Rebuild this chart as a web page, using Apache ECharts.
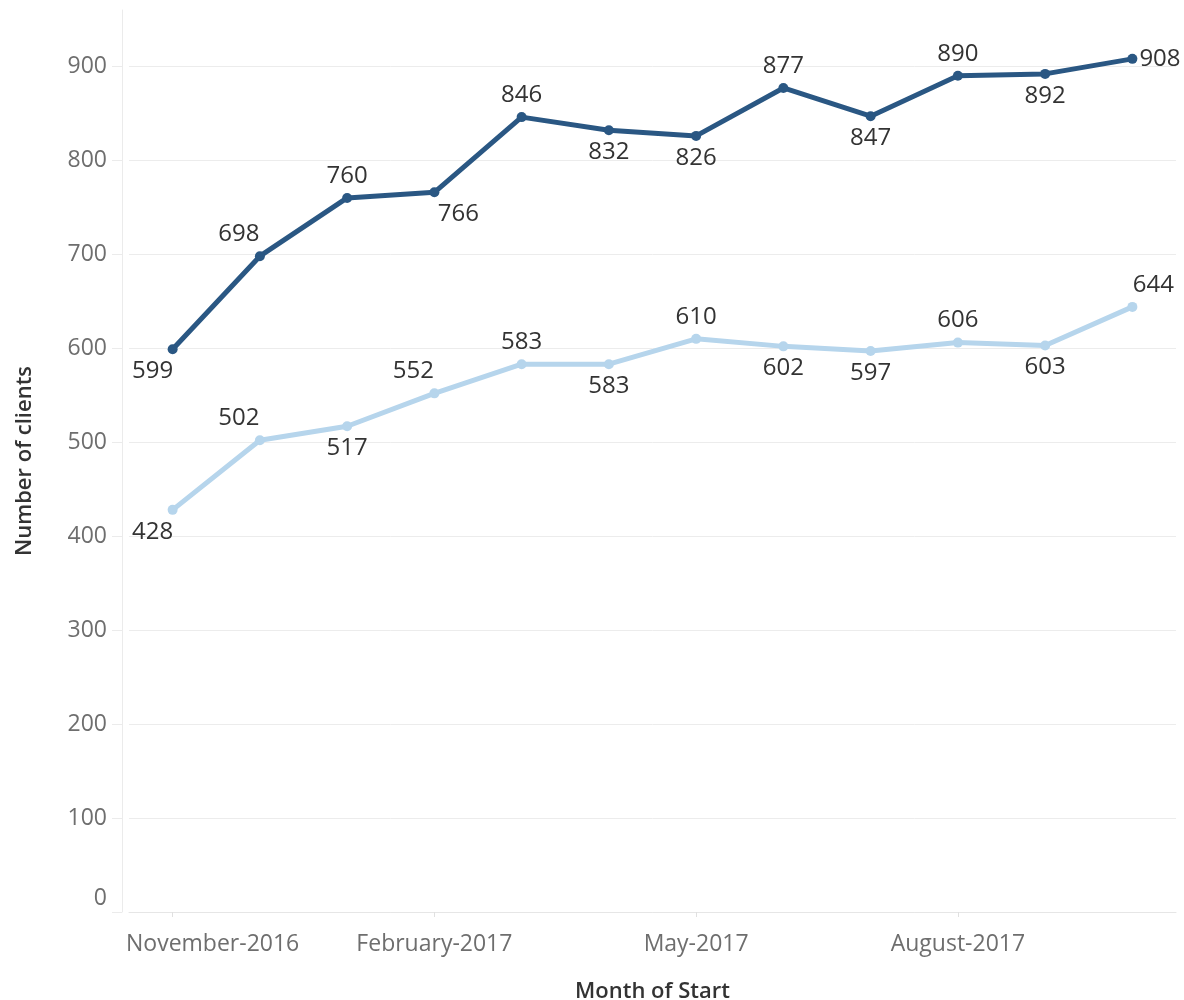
<!DOCTYPE html>
<html>
<head>
<meta charset="utf-8">
<script src="https://cdn.jsdelivr.net/npm/echarts@6/dist/echarts.min.js"></script>
<style>
  html, body { margin: 0; padding: 0; background: #ffffff; }
  #chart { width: 1184px; height: 1000px; }
</style>
</head>
<body>
<div id="chart"></div>
<script>
// Monthly client counts, Nov 2016 – Oct 2017
const months = [
  'November-2016', 'December-2016', 'January-2017', 'February-2017',
  'March-2017', 'April-2017', 'May-2017', 'June-2017',
  'July-2017', 'August-2017', 'September-2017', 'October-2017'
];
const upperClients = [599, 698, 760, 766, 846, 832, 826, 877, 847, 890, 892, 908];
const lowerClients = [428, 502, 517, 552, 583, 583, 610, 602, 597, 606, 603, 644];
const yTicks = [0, 100, 200, 300, 400, 500, 600, 700, 800, 900];

// Where each value label sits relative to its point
const upperLabelSide = ['bl', 'tl', 't', 'br', 't', 'b', 'b', 't', 'b', 't', 'b', 'r'];
const lowerLabelSide = ['bl', 'tl', 'b', 'tl', 't', 'b', 't', 'b', 'b', 't', 'b', 'tr'];

const FONT = '"Open Sans", "Noto Sans", sans-serif';

function labelFor(side) {
  const base = { show: true, color: '#333333', fontSize: 24, fontFamily: FONT, distance: 5 };
  switch (side) {
    case 't':  return Object.assign(base, { position: 'top' });
    case 'b':  return Object.assign(base, { position: 'bottom' });
    case 'tl': return Object.assign(base, { position: 'top', offset: [-21, 0] });
    case 'tr': return Object.assign(base, { position: 'top', offset: [21, 0] });
    case 'bl': return Object.assign(base, { position: 'bottom', offset: [-20, 0] });
    case 'br': return Object.assign(base, { position: 'bottom', offset: [24, 0] });
    case 'r':  return Object.assign(base, { position: 'right', distance: 2 });
  }
  return base;
}

function withLabels(values, sides) {
  return values.map((v, i) => ({ value: v, label: labelFor(sides[i]) }));
}

const chart = echarts.init(document.getElementById('chart'), null, { renderer: 'canvas' });

chart.setOption({
  animation: false,
  backgroundColor: '#ffffff',
  grid: { left: 129, right: 8, top: 10, bottom: 88, containLabel: false, outerBoundsMode: 'none' },
  xAxis: {
    type: 'category',
    data: months,
    boundaryGap: true,
    name: 'Month of Start',
    nameLocation: 'middle',
    nameGap: 69,
    nameTextStyle: { color: '#333333', fontSize: 22, fontWeight: 600, fontFamily: FONT },
    axisLine: { show: true, lineStyle: { color: '#e6e6e6', width: 1 } },
    axisTick: { show: true, alignWithLabel: true, length: 5, lineStyle: { color: '#e0e0e0' } },
    axisLabel: {
      interval: 2, color: '#6e6e6e', fontSize: 23, fontFamily: FONT, margin: 21,
      // first month label is nudged right so it stays clear of the axis corner
      formatter: (v, i) => (i === 0 ? '{first|' + v + '}' : v),
      rich: { first: { color: '#6e6e6e', fontSize: 23, fontFamily: FONT, padding: [0, 0, 0, 80] } }
    },
    splitLine: { show: false }
  },
  yAxis: {
    type: 'value',
    min: 0,
    max: 960,
    interval: 100,
    offset: 7,
    name: 'Number of clients',
    nameLocation: 'middle',
    nameRotate: 90,
    nameGap: 86,
    nameTextStyle: { color: '#333333', fontSize: 22, fontWeight: 600, fontFamily: FONT },
    axisLine: { show: true, lineStyle: { color: '#ebebeb', width: 1 } },
    axisTick: { show: true, length: 10, customValues: yTicks, lineStyle: { color: '#ebebeb' } },
    axisLabel: {
      color: '#6e6e6e', fontSize: 23, fontFamily: FONT, margin: 15,
      customValues: yTicks,
      formatter: v => (v === 0 ? '{zero|0}' : String(v)),
      rich: { zero: { color: '#6e6e6e', fontSize: 23, fontFamily: FONT, padding: [0, 0, 28, 0] } }
    },
    splitLine: { show: true, lineStyle: { color: '#ececec', width: 1 } }
  },
  series: [
    {
      name: 'Clients A',
      type: 'line',
      data: withLabels(upperClients, upperLabelSide),
      symbol: 'circle',
      symbolSize: 10,
      lineStyle: { color: '#2a5783', width: 5 },
      itemStyle: { color: '#2a5783' },
      z: 3
    },
    {
      name: 'Clients B',
      type: 'line',
      data: withLabels(lowerClients, lowerLabelSide),
      symbol: 'circle',
      symbolSize: 10,
      lineStyle: { color: '#b6d5ec', width: 5 },
      itemStyle: { color: '#b6d5ec' },
      z: 2
    }
  ]
});
</script>
</body>
</html>
